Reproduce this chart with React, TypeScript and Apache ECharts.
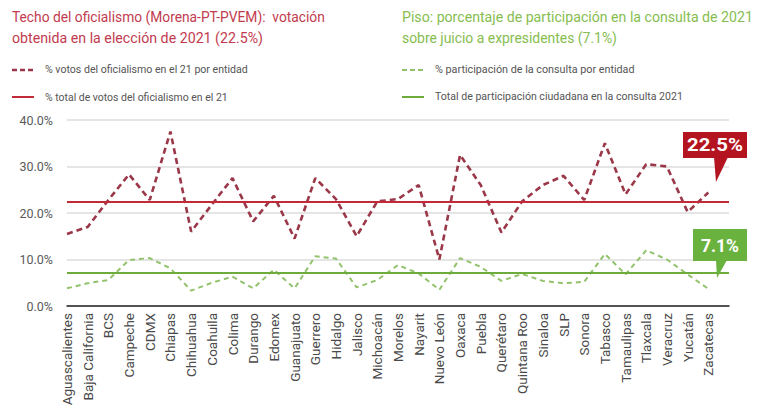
import React, { useEffect, useRef } from "react";
import * as echarts from "echarts";

const states = [
  "Aguascalientes", "Baja California", "BCS", "Campeche", "CDMX", "Chiapas",
  "Chihuahua", "Coahuila", "Colima", "Durango", "Edomex", "Guanajuato",
  "Guerrero", "Hidalgo", "Jalisco", "Michoacán", "Morelos", "Nayarit",
  "Nuevo León", "Oaxaca", "Puebla", "Querétaro", "Quintana Roo", "Sinaloa",
  "SLP", "Sonora", "Tabasco", "Tamaulipas", "Tlaxcala", "Veracruz",
  "Yucatán", "Zacatecas",
];

const votosOficialismo = [
  15.5, 17, 22.8, 28.3, 22.8, 37.5, 16, 21.8, 27.5, 18.2, 23.7, 14.5, 27.5, 23,
  15, 22.5, 23, 26, 10, 32.5, 26, 15.8, 22.5, 26, 28, 22.8, 35, 24, 30.5, 30,
  20.2, 24.4,
];

const participacionConsulta = [
  3.8, 4.9, 5.6, 9.9, 10.3, 8.1, 3.3, 5.0, 6.3, 3.8, 7.8, 3.8, 10.7, 10.2, 4.0,
  5.6, 8.8, 7.0, 3.5, 10.3, 8.4, 5.4, 6.9, 5.4, 4.9, 5.2, 11.2, 6.8, 12, 10,
  6.8, 3.7,
];

const totalOficialismo = 22.5;
const totalParticipacion = 7.1;
const yTicks = [0, 10, 20, 30, 40];

const labelVotos = "% votos del oficialismo en el 21 por entidad";
const labelTotalVotos = "% total de votos del oficialismo en el 21";
const labelPart = "% participación de la consulta por entidad";
const labelTotalPart = "Total de participación ciudadana en la consulta 2021";

const titleRed = ["Techo del oficialismo (Morena-PT-PVEM):  votación", "obtenida en la elección de 2021 (22.5%)"];
const titleGreen = ["Piso: porcentaje de participación en la consulta de 2021", "sobre juicio a expresidentes (7.1%)"];

const FONT = "Roboto";
const RED_T = "#c23b4e";
const GREEN_T = "#86bd4f";
const RED_D = "#9a3748";
const RED_S = "#c22a38";
const GREEN_D = "#93c26c";
const GREEN_S = "#6cab3c";

let measureCtx: CanvasRenderingContext2D | null = null;
function fitScale(text: string, size: number, weight: string, target: number) {
  if (!measureCtx) measureCtx = document.createElement("canvas").getContext("2d");
  if (!measureCtx) return 1;
  measureCtx.font = `${weight} ${size}px ${FONT}`;
  const w = measureCtx.measureText(text).width;
  return w > 0 ? target / w : 1;
}

function fitText(text: string, x: number, y: number, size: number, target: number, fill: string, extra: any = {}) {
  const weight = extra.fontWeight || "normal";
  const s = fitScale(text, size, weight, target);
  return {
    type: "text",
    x,
    y,
    scaleX: s,
    z: extra.z || 5,
    style: {
      text,
      fill,
      fontSize: size,
      fontFamily: FONT,
      fontWeight: weight,
      align: extra.align || "left",
      verticalAlign: "middle",
    },
  };
}

export default function App() {
  const ref = useRef<HTMLDivElement>(null);
  useEffect(() => {
    if (!ref.current) return;
    const chart = echarts.init(ref.current, null, { renderer: "svg" });
    const option: any = {
      animation: false,
      backgroundColor: "#ffffff",
      grid: { left: 67, right: 32, top: 120, bottom: 102, containLabel: false, outerBoundsMode: "none" },
      xAxis: {
        type: "category",
        data: states,
        boundaryGap: false,
        max: 31.8,
        axisLine: { show: true, lineStyle: { color: "#222", width: 1.5 } },
        axisTick: { show: false },
        axisLabel: {
          rotate: 90,
          interval: 0,
          margin: 7,
          color: "#4a4a4a",
          fontSize: 13.5,
          fontFamily: FONT,
        },
        splitLine: { show: false },
      },
      yAxis: {
        type: "value",
        min: yTicks[0],
        max: yTicks[yTicks.length - 1],
        interval: 10,
        axisLine: { show: false },
        axisTick: { show: false },
        axisLabel: {
          formatter: (v: number) => v.toFixed(1) + "%",
          color: "#5a5a5a",
          fontSize: 12.5,
          margin: 14,
          fontFamily: FONT,
        },
        splitLine: { show: true, lineStyle: { color: "#dcdcdc", width: 1.5 } },
      },
      series: [
        {
          name: labelTotalVotos,
          type: "line",
          data: [],
          symbol: "none",
          markLine: {
            silent: true,
            symbol: "none",
            label: { show: false },
            lineStyle: { color: RED_S, width: 2, type: "solid" },
            data: [{ yAxis: totalOficialismo }],
          },
        },
        {
          name: labelTotalPart,
          type: "line",
          data: [],
          symbol: "none",
          markLine: {
            silent: true,
            symbol: "none",
            label: { show: false },
            lineStyle: { color: GREEN_S, width: 2, type: "solid" },
            data: [{ yAxis: totalParticipacion }],
          },
        },
        {
          name: labelVotos,
          type: "line",
          data: votosOficialismo,
          symbol: "none",
          lineStyle: { color: RED_D, width: 2.6, type: [6, 4] },
        },
        {
          name: labelPart,
          type: "line",
          data: participacionConsulta,
          symbol: "none",
          lineStyle: { color: GREEN_D, width: 2, type: [5, 4] },
        },
      ],
      graphic: [
        // titles
        fitText(titleRed[0], 12, 17, 15.5, 313, RED_T),
        fitText(titleRed[1], 12, 38, 15.5, 251, RED_T),
        fitText(titleGreen[0], 402, 17, 15.5, 351, GREEN_T),
        fitText(titleGreen[1], 402, 38, 15.5, 215, GREEN_T),
        // left legend
        { type: "line", shape: { x1: 12, y1: 70, x2: 34, y2: 70 }, style: { stroke: RED_D, lineWidth: 2.5, lineDash: [5, 3] } },
        fitText(labelVotos, 45, 70, 10.5, 203, "#555"),
        { type: "line", shape: { x1: 12, y1: 97, x2: 34, y2: 97 }, style: { stroke: RED_S, lineWidth: 2 } },
        fitText(labelTotalVotos, 45, 97, 10.5, 183, "#555"),
        // right legend
        { type: "line", shape: { x1: 402, y1: 70, x2: 424, y2: 70 }, style: { stroke: GREEN_D, lineWidth: 2, lineDash: [5, 3] } },
        fitText(labelPart, 435, 70, 10.5, 200, "#555"),
        { type: "line", shape: { x1: 402, y1: 97, x2: 424, y2: 97 }, style: { stroke: GREEN_S, lineWidth: 2 } },
        fitText(labelTotalPart, 435, 97, 10.5, 248, "#555"),
        // red badge
        { type: "rect", shape: { x: 683, y: 132, width: 64, height: 26 }, style: { fill: "#b3141f" }, z: 10 },
        { type: "polygon", shape: { points: [[714, 157], [728, 157], [716, 182]] }, style: { fill: "#b3141f" }, z: 10 },
        fitText("22.5%", 715, 145, 19, 56, "#fff", { fontWeight: "bold", align: "center", z: 11 }),
        // green badge
        { type: "rect", shape: { x: 693, y: 229, width: 54, height: 32 }, style: { fill: "#6ab23e" }, z: 10 },
        { type: "polygon", shape: { points: [[716, 260], [727, 260], [717, 278]] }, style: { fill: "#6ab23e" }, z: 10 },
        fitText("7.1%", 720, 245, 19, 38, "#fff", { fontWeight: "bold", align: "center", z: 11 }),
      ],
    };
    chart.setOption(option);
    return () => chart.dispose();
  }, []);
  return <div ref={ref} style={{ width: 761, height: 408, position: "absolute", left: 0, top: 0 }} />;
}
